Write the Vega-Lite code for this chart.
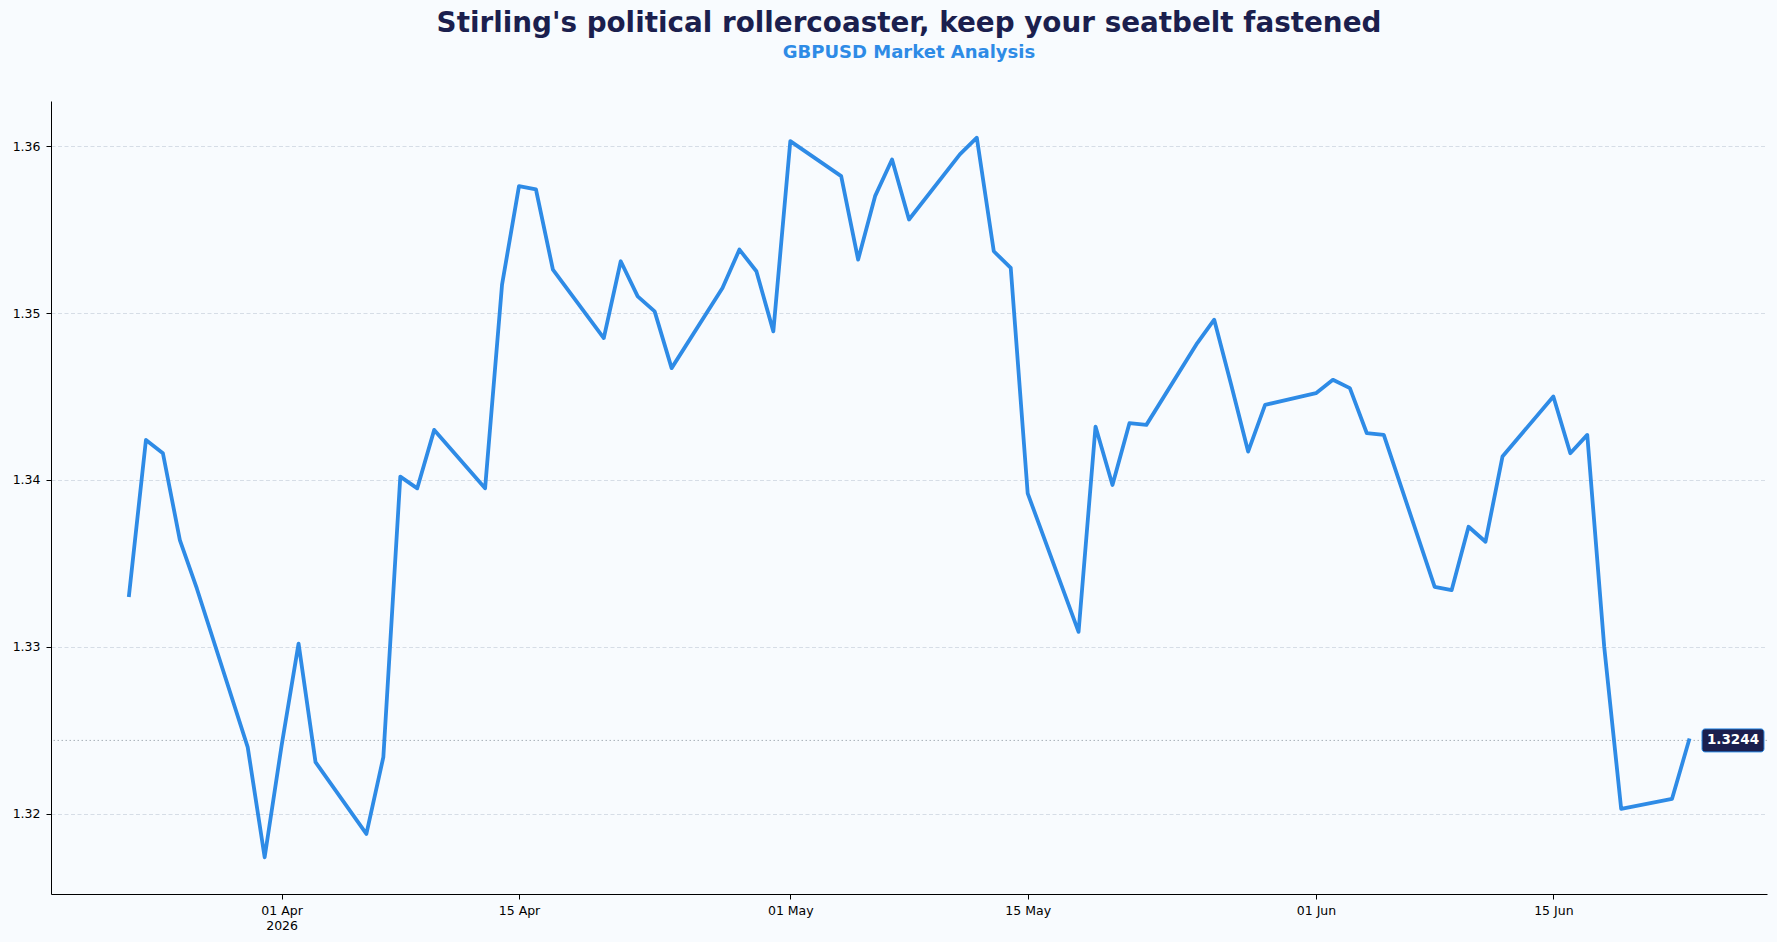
{
  "$schema": "https://vega.github.io/schema/vega-lite/v6.json",
  "autosize": "none",
  "width": 1716,
  "height": 793,
  "padding": {"left": 51, "top": 101, "right": 10, "bottom": 48},
  "background": "#F8FBFE",
  "title": {
    "text": "Stirling's political rollercoaster, keep your seatbelt fastened",
    "subtitle": "GBPUSD Market Analysis",
    "anchor": "middle",
    "frame": "group",
    "font": "DejaVu Sans",
    "fontSize": 27.8,
    "fontWeight": "bold",
    "color": "#1B1F4E",
    "subtitleFont": "DejaVu Sans",
    "subtitleFontSize": 18,
    "subtitleFontWeight": "bold",
    "subtitleColor": "#2E8BE6",
    "subtitlePadding": 7,
    "offset": 38.5
  },
  "datasets": {
    "gbpusd": [
      {"date": "2026-03-23", "close": 1.3331},
      {"date": "2026-03-24", "close": 1.3424},
      {"date": "2026-03-25", "close": 1.3416},
      {"date": "2026-03-26", "close": 1.3364},
      {"date": "2026-03-27", "close": 1.3335},
      {"date": "2026-03-30", "close": 1.3240},
      {"date": "2026-03-31", "close": 1.3174},
      {"date": "2026-04-01", "close": 1.3241},
      {"date": "2026-04-02", "close": 1.3302},
      {"date": "2026-04-03", "close": 1.3231},
      {"date": "2026-04-06", "close": 1.3188},
      {"date": "2026-04-07", "close": 1.3234},
      {"date": "2026-04-08", "close": 1.3402},
      {"date": "2026-04-09", "close": 1.3395},
      {"date": "2026-04-10", "close": 1.3430},
      {"date": "2026-04-13", "close": 1.3395},
      {"date": "2026-04-14", "close": 1.3517},
      {"date": "2026-04-15", "close": 1.3576},
      {"date": "2026-04-16", "close": 1.3574},
      {"date": "2026-04-17", "close": 1.3526},
      {"date": "2026-04-20", "close": 1.3485},
      {"date": "2026-04-21", "close": 1.3531},
      {"date": "2026-04-22", "close": 1.3510},
      {"date": "2026-04-23", "close": 1.3501},
      {"date": "2026-04-24", "close": 1.3467},
      {"date": "2026-04-27", "close": 1.3515},
      {"date": "2026-04-28", "close": 1.3538},
      {"date": "2026-04-29", "close": 1.3525},
      {"date": "2026-04-30", "close": 1.3489},
      {"date": "2026-05-01", "close": 1.3603},
      {"date": "2026-05-04", "close": 1.3582},
      {"date": "2026-05-05", "close": 1.3532},
      {"date": "2026-05-06", "close": 1.3570},
      {"date": "2026-05-07", "close": 1.3592},
      {"date": "2026-05-08", "close": 1.3556},
      {"date": "2026-05-11", "close": 1.3595},
      {"date": "2026-05-12", "close": 1.3605},
      {"date": "2026-05-13", "close": 1.3537},
      {"date": "2026-05-14", "close": 1.3527},
      {"date": "2026-05-15", "close": 1.3392},
      {"date": "2026-05-18", "close": 1.3309},
      {"date": "2026-05-19", "close": 1.3432},
      {"date": "2026-05-20", "close": 1.3397},
      {"date": "2026-05-21", "close": 1.3434},
      {"date": "2026-05-22", "close": 1.3433},
      {"date": "2026-05-25", "close": 1.3482},
      {"date": "2026-05-26", "close": 1.3496},
      {"date": "2026-05-27", "close": 1.3457},
      {"date": "2026-05-28", "close": 1.3417},
      {"date": "2026-05-29", "close": 1.3445},
      {"date": "2026-06-01", "close": 1.3452},
      {"date": "2026-06-02", "close": 1.3460},
      {"date": "2026-06-03", "close": 1.3455},
      {"date": "2026-06-04", "close": 1.3428},
      {"date": "2026-06-05", "close": 1.3427},
      {"date": "2026-06-08", "close": 1.3336},
      {"date": "2026-06-09", "close": 1.3334},
      {"date": "2026-06-10", "close": 1.3372},
      {"date": "2026-06-11", "close": 1.3363},
      {"date": "2026-06-12", "close": 1.3414},
      {"date": "2026-06-15", "close": 1.3450},
      {"date": "2026-06-16", "close": 1.3416},
      {"date": "2026-06-17", "close": 1.3427},
      {"date": "2026-06-18", "close": 1.3300},
      {"date": "2026-06-19", "close": 1.3203},
      {"date": "2026-06-22", "close": 1.3209},
      {"date": "2026-06-23", "close": 1.3244}
    ]
  },
  "data": {"name": "gbpusd"},
  "encoding": {
    "x": {
      "field": "date",
      "type": "temporal",
      "scale": {
        "type": "utc",
        "domain": [
          {"year": 2026, "month": "Mar", "date": 18, "hours": 9, "minutes": 36, "utc": true},
          {"year": 2026, "month": "Jun", "date": 27, "hours": 14, "minutes": 24, "utc": true}
        ],
        "nice": false
      },
      "axis": {
        "title": null,
        "grid": false,
        "values": [
          {"year": 2026, "month": "Apr", "date": 1, "utc": true},
          {"year": 2026, "month": "Apr", "date": 15, "utc": true},
          {"year": 2026, "month": "May", "date": 1, "utc": true},
          {"year": 2026, "month": "May", "date": 15, "utc": true},
          {"year": 2026, "month": "Jun", "date": 1, "utc": true},
          {"year": 2026, "month": "Jun", "date": 15, "utc": true}
        ],
        "labelExpr": "utcdate(datum.value) == 1 && utcmonth(datum.value) == 3 ? [utcFormat(datum.value, '%d %b'), '2026'] : utcFormat(datum.value, '%d %b')",
        "labelLineHeight": 15,
        "labelPadding": 5
      }
    },
    "y": {
      "field": "close",
      "type": "quantitative",
      "scale": {"domain": [1.3152, 1.3627], "nice": false, "zero": false},
      "axis": {
        "title": null,
        "values": [1.32, 1.33, 1.34, 1.35, 1.36],
        "format": ".2f",
        "grid": true,
        "gridColor": "#CDD6E0",
        "gridDash": [4, 2.5],
        "gridWidth": 0.8,
        "labelPadding": 6
      }
    }
  },
  "layer": [
    {
      "transform": [{"filter": "utcFormat(datum.date, '%Y-%m-%d') == '2026-06-23'"}],
      "mark": {"type": "rule", "color": "#A8B0B8", "strokeWidth": 1, "strokeDash": [1.5, 2.5]},
      "encoding": {"x": null}
    },
    {
      "mark": {"type": "line", "color": "#2E8BE6", "strokeWidth": 3.8, "strokeJoin": "round", "strokeCap": "square"}
    },
    {
      "transform": [{"filter": "utcFormat(datum.date, '%Y-%m-%d') == '2026-06-23'"}],
      "mark": {
        "type": "rect",
        "xOffset": 13,
        "x2Offset": 75,
        "yOffset": -11.5,
        "y2Offset": 11.5,
        "cornerRadius": 3,
        "fill": "#1B1F4E",
        "stroke": "#2E8BE6",
        "strokeWidth": 1
      },
      "encoding": {
        "x2": {"field": "date"},
        "y2": {"field": "close"}
      }
    },
    {
      "transform": [{"filter": "utcFormat(datum.date, '%Y-%m-%d') == '2026-06-23'"}],
      "mark": {
        "type": "text",
        "dx": 44,
        "align": "center",
        "baseline": "middle",
        "font": "DejaVu Sans",
        "fontSize": 13.5,
        "fontWeight": "bold",
        "color": "#FFFFFF"
      },
      "encoding": {
        "text": {"field": "close", "type": "quantitative", "format": ".4f"}
      }
    }
  ],
  "config": {
    "view": {"stroke": null},
    "font": "DejaVu Sans",
    "axis": {
      "domainColor": "#000000",
      "domainWidth": 1,
      "tickColor": "#000000",
      "tickSize": 5,
      "tickWidth": 1,
      "labelColor": "#000000",
      "labelFont": "DejaVu Sans",
      "labelFontSize": 12.5
    }
  }
}
